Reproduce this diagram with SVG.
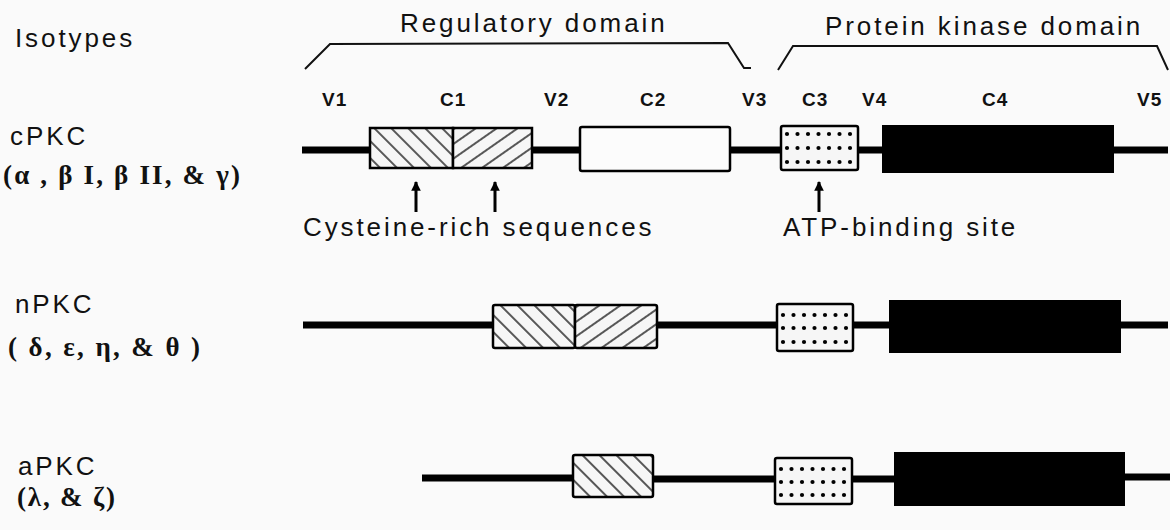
<svg xmlns="http://www.w3.org/2000/svg" width="1170" height="530" viewBox="0 0 1170 530">
<style>
.t{font-family:"Liberation Sans",Arial,sans-serif;font-size:26px;fill:#111;letter-spacing:2.9px}
.v{font-family:"Liberation Sans",Arial,sans-serif;font-size:19px;font-weight:bold;fill:#111;letter-spacing:1px}
.g{font-family:"Liberation Serif","Times New Roman",serif;font-size:27px;font-weight:bold;fill:#111}
.br{fill:none;stroke:#111;stroke-width:2}
.bb{stroke:#000;stroke-width:7;fill:none}
.box{stroke:#000;stroke-width:2.5}
.ar{stroke:#000;stroke-width:3;marker-end:url(#ah)}
</style>
<defs>
<pattern id="hb" patternUnits="userSpaceOnUse" width="12" height="12" patternTransform="rotate(-45)">
<rect width="12" height="12" fill="#f6f6f6"/>
<line x1="6" y1="0" x2="6" y2="12" stroke="#222" stroke-width="1.5"/>
</pattern>
<pattern id="hf" patternUnits="userSpaceOnUse" width="12" height="12" patternTransform="rotate(55)">
<rect width="12" height="12" fill="#f6f6f6"/>
<line x1="6" y1="0" x2="6" y2="12" stroke="#222" stroke-width="1.5"/>
</pattern>
<g id="dr">
<circle cx="0" cy="0" r="2.1"/><circle cx="10.5" cy="0" r="2.1"/><circle cx="21" cy="0" r="2.1"/><circle cx="31.5" cy="0" r="2.1"/><circle cx="42" cy="0" r="2.1"/><circle cx="52.5" cy="0" r="2.1"/><circle cx="63" cy="0" r="2.1"/>
</g>
<marker id="ah" viewBox="0 0 10 10" refX="9" refY="5" markerWidth="3.2" markerHeight="3.2" orient="auto" markerUnits="strokeWidth">
<path d="M0,0 L10,5 L0,10 Z" fill="#000"/>
</marker>
</defs>
<rect width="1170" height="530" fill="#fafafa"/>

<g id="headers">
<text class="t" x="15" y="47">Isotypes</text>
<text class="t" x="400" y="32">Regulatory domain</text>
<text class="t" x="825" y="35">Protein kinase domain</text>
<polyline class="br" points="305,69 330,44 728,43 744,68 751,68"/>
<polyline class="br" points="778,70 793,46 1157,46 1168,70"/>
<text class="v" x="322" y="106">V1</text>
<text class="v" x="440" y="106">C1</text>
<text class="v" x="544" y="106">V2</text>
<text class="v" x="640" y="106">C2</text>
<text class="v" x="742" y="106">V3</text>
<text class="v" x="802" y="106">C3</text>
<text class="v" x="862" y="106">V4</text>
<text class="v" x="982" y="106">C4</text>
<text class="v" x="1137" y="106">V5</text>
</g>

<g id="labels">
<text class="t" x="10" y="145">cPKC</text>
<text class="g" x="3" y="184" textLength="237" lengthAdjust="spacing">(α , β I, β II, &amp; γ)</text>
<text class="t" x="15" y="313">nPKC</text>
<text class="g" x="8" y="356" textLength="192" lengthAdjust="spacing">( δ, ε, η, &amp; θ )</text>
<text class="t" x="18" y="475">aPKC</text>
<text class="g" x="17" y="506" textLength="98" lengthAdjust="spacing">(λ, &amp; ζ)</text>
<text class="t" x="303" y="236">Cysteine-rich sequences</text>
<text class="t" x="783" y="236">ATP-binding site</text>
</g>

<g id="connectors">
<line class="bb" x1="302" y1="150" x2="370" y2="150"/>
<line class="bb" x1="532" y1="150" x2="580" y2="150"/>
<line class="bb" x1="730" y1="150" x2="781" y2="150"/>
<line class="bb" x1="858" y1="150" x2="882" y2="150"/>
<line class="bb" x1="1114" y1="150" x2="1168" y2="150"/>
<line class="bb" x1="303" y1="325" x2="493" y2="325"/>
<line class="bb" x1="657" y1="325" x2="777" y2="325"/>
<line class="bb" x1="853" y1="325" x2="889" y2="325"/>
<line class="bb" x1="1121" y1="325" x2="1168" y2="325"/>
<line class="bb" x1="422" y1="478" x2="573" y2="478"/>
<line class="bb" x1="653" y1="479" x2="775" y2="479"/>
<line class="bb" x1="852" y1="479" x2="894" y2="479"/>
<line class="bb" x1="1125" y1="477" x2="1170" y2="477"/>
<line class="ar" x1="416" y1="212" x2="416" y2="182"/>
<line class="ar" x1="495" y1="212" x2="495" y2="182"/>
<line class="ar" x1="819" y1="212" x2="819" y2="182"/>
</g>

<g id="cPKC-C1">
<rect class="box" x="370" y="128" width="83" height="40" fill="url(#hb)"/>
<rect class="box" x="453" y="128" width="79" height="40" fill="url(#hf)"/>
</g>
<g id="cPKC-C2"><rect class="box" x="580" y="127" width="150" height="44" rx="2" fill="#fcfcfc"/></g>
<g id="cPKC-C3">
<rect class="box" x="781" y="126" width="77" height="44" rx="2" fill="#f6f6f6"/>
<use href="#dr" x="787" y="134"/><use href="#dr" x="787" y="148"/><use href="#dr" x="787" y="162"/>
</g>
<g id="cPKC-C4"><rect x="882" y="125" width="232" height="48" fill="#000"/></g>

<g id="nPKC-C1">
<rect class="box" x="493" y="305" width="82" height="43" rx="2" fill="url(#hb)"/>
<rect class="box" x="575" y="305" width="82" height="43" rx="2" fill="url(#hf)"/>
</g>
<g id="nPKC-C3">
<rect class="box" x="777" y="304" width="76" height="47" rx="2" fill="#f6f6f6"/>
<use href="#dr" x="783" y="315"/><use href="#dr" x="783" y="328"/><use href="#dr" x="783" y="342"/>
</g>
<g id="nPKC-C4"><rect x="889" y="300" width="232" height="53" fill="#000"/></g>

<g id="aPKC-C1"><rect class="box" x="573" y="455" width="80" height="42" rx="2" fill="url(#hb)"/></g>
<g id="aPKC-C3">
<rect class="box" x="775" y="458" width="77" height="46" rx="2" fill="#f6f6f6"/>
<use href="#dr" x="781" y="469"/><use href="#dr" x="781" y="482"/><use href="#dr" x="781" y="495"/>
</g>
<g id="aPKC-C4"><rect x="894" y="452" width="231" height="54" fill="#000"/></g>
</svg>
